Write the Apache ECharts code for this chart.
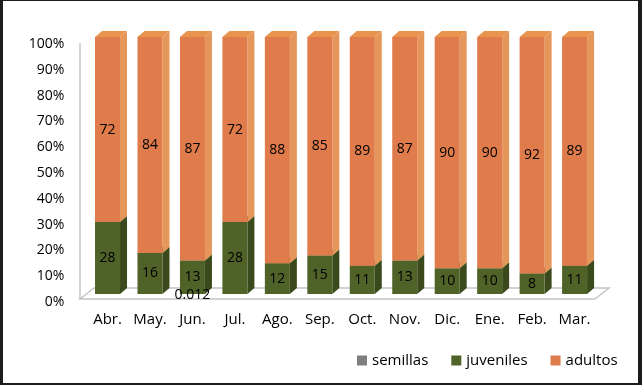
<!DOCTYPE html>
<html>
<head>
<meta charset="utf-8">
<script src="https://cdn.jsdelivr.net/npm/echarts@6/dist/echarts.min.js"></script>
<style>
  html, body { margin: 0; padding: 0; background: #fff; }
  #chart { width: 642px; height: 385px; }
  #frame {
    position: absolute; left: 0; top: 0; width: 642px; height: 385px;
    box-sizing: border-box; pointer-events: none;
    border-style: solid; border-color: #1c1c1c; border-width: 1px 4px 2px 3px;
  }
</style>
</head>
<body>
<div id="chart"></div>
<div id="frame"></div>
<script>
var months = ['Abr.', 'May.', 'Jun.', 'Jul.', 'Ago.', 'Sep.', 'Oct.', 'Nov.', 'Dic.', 'Ene.', 'Feb.', 'Mar.']
var semillas = [null, null, 0.012, null, null, null, null, null, null, null, null, null]
var juveniles = [28, 16, 13, 28, 12, 15, 11, 13, 10, 10, 8, 11]
var adultos = [72, 84, 87, 72, 88, 85, 89, 87, 90, 90, 92, 89]
var yTicks = ['0%', '10%', '20%', '30%', '40%', '50%', '60%', '70%', '80%', '90%', '100%']

var FONT = '"Open Sans", sans-serif'
var colors = {
  semillas: { front: '#7f7f7f', side: '#5f5f5f', top: '#9a9a9a' },
  juveniles: { front: '#4f6228', side: '#3b4a1d', top: '#5f7532' },
  adultos: { front: '#e07b4b', side: '#e5965a', top: '#e8944f' }
}

// stacked segments: [index, base, top, value]
function segs(vals, bases) {
  return vals.map(function(v, i) {
    var b = bases ? (bases[i] || 0) : 0
    return [i, b, b + (v || 0), v]
  })
}

function render3d(c, labelBelow) {
  return function(params, api) {
    var val = api.value(3)
    if (val === null || isNaN(val)) return
    var lo = api.coord([api.value(0), api.value(1)])
    var hi = api.coord([api.value(0), api.value(2)])
    var w = 25
    var dx = 7
    var dy = 6
    var x0 = lo[0] - 12.5
    var x1 = x0 + w
    var children = []
    if (labelBelow) {
      children.push({
        type: 'text',
        style: {
          text: String(val), x: lo[0], y: lo[1] + 1, align: 'center', verticalAlign: 'middle',
          fontFamily: FONT, fontSize: 14, fill: '#000'
        }
      })
      return { type: 'group', children: children }
    }
    children.push({
      type: 'polygon',
      shape: { points: [[x1, lo[1]], [x1 + dx, lo[1] - dy], [x1 + dx, hi[1] - dy], [x1, hi[1]]] },
      style: { fill: c.side }
    })
    children.push({
      type: 'polygon',
      shape: { points: [[x0, hi[1]], [x0 + dx, hi[1] - dy], [x1 + dx, hi[1] - dy], [x1, hi[1]]] },
      style: { fill: c.top }
    })
    children.push({
      type: 'rect',
      shape: { x: x0, y: hi[1], width: w, height: lo[1] - hi[1] },
      style: { fill: c.front },
      textContent: {
        style: { text: String(val), fontFamily: FONT, fontSize: 14, fill: '#000' }
      },
      textConfig: { position: 'inside' }
    })
    return { type: 'group', children: children }
  }
}

var chart = echarts.init(document.getElementById('chart'))
chart.setOption({
  animation: false,
  textStyle: { fontFamily: FONT },
  grid: [
    { left: 86.3, right: 46.2, top: 37, bottom: 91 },
    { left: 86.3, right: 46.2, top: 44, bottom: 83 }
  ],
  xAxis: [{
    gridIndex: 0,
    type: 'category',
    data: months,
    axisLine: { show: false },
    axisTick: { show: false },
    axisLabel: { interval: 0, margin: 18, fontSize: 15, color: '#000', fontFamily: FONT }
  }, {
    gridIndex: 1,
    type: 'category',
    data: months,
    show: false
  }],
  yAxis: [{
    gridIndex: 0,
    type: 'value',
    min: 0,
    max: 100,
    show: false
  }, {
    gridIndex: 1,
    type: 'value',
    min: 0,
    max: 100,
    interval: 10,
    axisLine: { show: false },
    axisTick: { show: false },
    splitLine: { show: false },
    axisLabel: {
      margin: 22,
      fontSize: 14,
      color: '#000',
      fontFamily: FONT,
      formatter: function(v) { return yTicks[Math.round(v / 10)] }
    }
  }],
  legend: {
    left: 352,
    top: 348,
    icon: 'rect',
    itemWidth: 10,
    itemHeight: 10,
    itemGap: 23,
    textStyle: { fontSize: 15, color: '#000', fontFamily: FONT },
    data: ['semillas', 'juveniles', 'adultos']
  },
  graphic: [{
    type: 'polygon',
    z: 0,
    shape: { points: [[80, 299], [94, 288], [609, 288], [595, 299]] },
    style: { fill: '#fff', stroke: '#c4c4c4', lineWidth: 1.5 }
  }, {
    type: 'line',
    z: 0,
    shape: { x1: 80, y1: 43, x2: 80, y2: 299 },
    style: { stroke: '#c4c4c4', lineWidth: 1.5 }
  }],
  series: [{
    name: 'juveniles',
    type: 'custom',
    z: 3,
    itemStyle: { color: colors.juveniles.front },
    renderItem: render3d(colors.juveniles),
    encode: { x: 0, y: [1, 2] },
    data: segs(juveniles)
  }, {
    name: 'adultos',
    type: 'custom',
    z: 3,
    itemStyle: { color: colors.adultos.front },
    renderItem: render3d(colors.adultos),
    encode: { x: 0, y: [1, 2] },
    data: segs(adultos, juveniles)
  }, {
    name: 'semillas',
    type: 'custom',
    z: 4,
    itemStyle: { color: colors.semillas.front },
    renderItem: render3d(colors.semillas, true),
    encode: { x: 0, y: [1, 2] },
    data: segs(semillas)
  }]
})
</script>
</body>
</html>
